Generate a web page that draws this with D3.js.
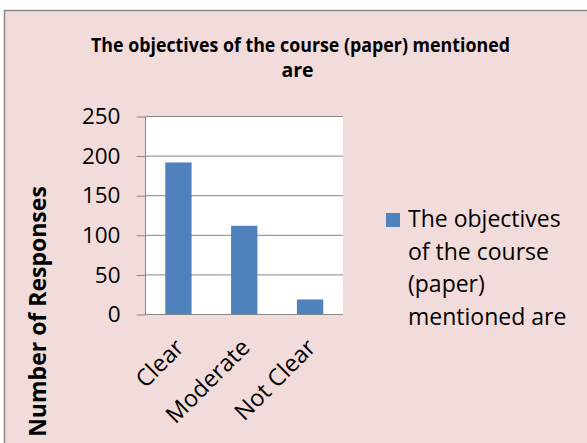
<!DOCTYPE html>
<html>
<head>
<meta charset="utf-8">
<script src="https://cdn.jsdelivr.net/npm/d3@7"></script>
<style>
  html, body { margin: 0; padding: 0; background: #fff; }
  svg { display: block; font-family: "Open Sans", sans-serif; }
</style>
</head>
<body>
<svg id="chart" width="587" height="443"></svg>
<script>
/* dados do grafico */
var categorias = ["Clear", "Moderate", "Not Clear"];
var respostas = [192, 112, 19];
var ticksY = [0, 50, 100, 150, 200, 250];
var tituloLinhas = ["The objectives of the course (paper) mentioned", "are"];
var legendaLinhas = ["The objectives", "of the course", "(paper)", "mentioned are"];
var tituloEixoY = "Number of Responses";

var svg = d3.select("#chart");

// moldura rosa do grafico
svg.append("rect")
  .attr("x", 4.5).attr("y", 10.5)
  .attr("width", 600).attr("height", 450)
  .attr("fill", "#F2DCDB")
  .attr("stroke", "#8C8C8C").attr("stroke-width", 1.5);

var esq = 145.5, dir = 343, topo = 116.5, base = 314.5;

var x = d3.scaleBand().domain(categorias).range([esq, dir]).paddingInner(0.6).paddingOuter(0.3);
var y = d3.scaleLinear().domain([0, 250]).range([base, topo]);

// area do plot
svg.append("rect")
  .attr("x", esq).attr("y", topo)
  .attr("width", dir - esq).attr("height", base - topo)
  .attr("fill", "#fff");

// linhas de grade
svg.append("g").selectAll("line").data(ticksY).enter().append("line")
  .attr("x1", esq).attr("x2", dir)
  .attr("y1", function(d){ return y(d); })
  .attr("y2", function(d){ return y(d); })
  .attr("stroke", "#868686").attr("stroke-width", 1);

// barras
svg.append("g").selectAll("rect").data(respostas).enter().append("rect")
  .attr("x", function(d, i){ return x(categorias[i]); })
  .attr("y", function(d){ return y(d); })
  .attr("width", x.bandwidth())
  .attr("height", function(d){ return y(0) - y(d); })
  .attr("fill", "#4F81BD");

// eixo y
var eixoY = svg.append("g")
  .attr("transform", "translate(" + esq + ",0)")
  .call(d3.axisLeft(y).tickValues(ticksY).tickSize(9).tickPadding(16));
eixoY.select(".domain").attr("stroke", "#868686").attr("d", "M0," + topo + "V" + base);
eixoY.selectAll(".tick line").attr("stroke", "#868686");
eixoY.selectAll(".tick text")
  .attr("font-family", "Open Sans").attr("font-size", 22.5).attr("fill", "#000");

// eixo x (linha de base)
svg.append("line")
  .attr("x1", esq).attr("x2", dir)
  .attr("y1", base).attr("y2", base)
  .attr("stroke", "#868686");

// rotulos das categorias
svg.append("g").selectAll("text").data(categorias).enter().append("text")
  .attr("transform", function(d){
    return "translate(" + (x(d) + x.bandwidth() / 2 + 7) + "," + 349 + ") rotate(-45)";
  })
  .attr("text-anchor", "end")
  .attr("font-size", 23.5)
  .attr("fill", "#000")
  .text(function(d){ return d; });

// titulo
svg.append("g").selectAll("text").data(tituloLinhas).enter().append("text")
  .attr("x", function(d, i){ return i == 0 ? 300.5 : 297.5; })
  .attr("y", function(d, i){ return 52 + i * 25; })
  .attr("text-anchor", "middle")
  .attr("font-weight", "bold")
  .attr("font-size", 19.5)
  .attr("fill", "#000")
  .each(function(d, i){
    if (i == 0) d3.select(this).attr("textLength", 419).attr("lengthAdjust", "spacingAndGlyphs");
  })
  .text(function(d){ return d; });

// titulo do eixo y
svg.append("text")
  .attr("transform", "translate(46,311.5) rotate(-90)")
  .attr("text-anchor", "middle")
  .attr("font-weight", "bold")
  .attr("font-size", 23)
  .attr("fill", "#000")
  .text(tituloEixoY);

// legenda
svg.append("rect")
  .attr("x", 386).attr("y", 213)
  .attr("width", 14).attr("height", 14)
  .attr("fill", "#4F81BD");
svg.append("g").selectAll("text").data(legendaLinhas).enter().append("text")
  .attr("x", 408)
  .attr("y", function(d, i){ return 227 + i * 32.7; })
  .attr("font-size", 23)
  .attr("fill", "#000")
  .text(function(d){ return d; });
</script>
</body>
</html>
